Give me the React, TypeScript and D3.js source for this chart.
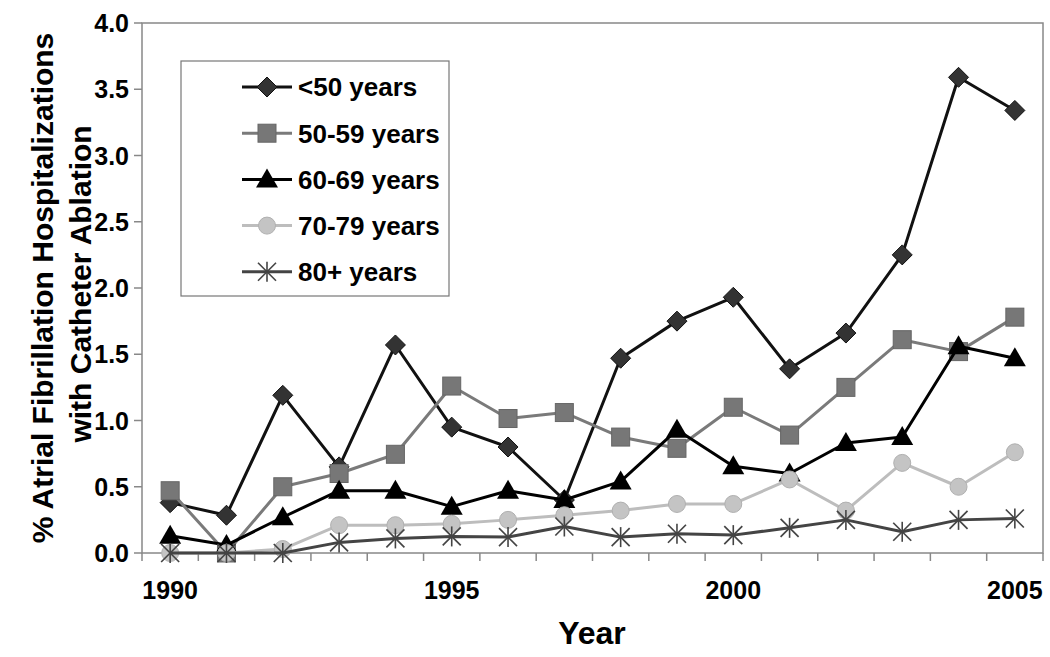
import * as d3 from "d3";

const years = d3.range(1990, 2006);
const yTicks = [0, 0.5, 1, 1.5, 2, 2.5, 3, 3.5, 4];
const xLabelYears = [1990, 1995, 2000, 2005];

const under50 = [0.38, 0.285, 1.19, 0.65, 1.57, 0.95, 0.8, 0.4, 1.47, 1.75, 1.93, 1.39, 1.66, 2.25, 3.59, 3.34];
const age50to59 = [0.47, 0.0, 0.5, 0.6, 0.745, 1.26, 1.015, 1.06, 0.875, 0.79, 1.1, 0.89, 1.25, 1.61, 1.52, 1.78];
const age60to69 = [0.13, 0.06, 0.27, 0.47, 0.47, 0.35, 0.47, 0.4, 0.54, 0.93, 0.655, 0.6, 0.83, 0.875, 1.56, 1.47];
const age70to79 = [0.0, 0.0, 0.03, 0.21, 0.21, 0.22, 0.25, 0.285, 0.32, 0.37, 0.37, 0.555, 0.32, 0.68, 0.5, 0.76];
const age80plus = [0.0, 0.0, 0.0, 0.08, 0.11, 0.125, 0.12, 0.2, 0.12, 0.145, 0.135, 0.19, 0.25, 0.16, 0.25, 0.26];

type Marker = "diamond" | "square" | "triangle" | "circle" | "asterisk";

const series: { name: string; values: number[]; color: string; marker: Marker; fill: string }[] = [
  { name: "<50 years", values: under50, color: "#111", marker: "diamond", fill: "#333" },
  { name: "50-59 years", values: age50to59, color: "#7a7a7a", marker: "square", fill: "#777" },
  { name: "60-69 years", values: age60to69, color: "#000", marker: "triangle", fill: "#000" },
  { name: "70-79 years", values: age70to79, color: "#bdbdbd", marker: "circle", fill: "#c4c4c4" },
  { name: "80+ years", values: age80plus, color: "#444", marker: "asterisk", fill: "none" },
];

const FONT = "Arial, 'Liberation Sans', Helvetica, sans-serif";

const margin = { left: 142, top: 23, right: 1043, bottom: 553 };

function MarkerShape({ type, x, y, fill, color }: { type: Marker; x: number; y: number; fill: string; color: string }) {
  if (type === "diamond") {
    return <path d={`M${x},${y - 10}L${x + 10},${y}L${x},${y + 10}L${x - 10},${y}Z`} fill={fill} stroke="#111" strokeWidth={1} />;
  }
  if (type === "square") {
    return <rect x={x - 9} y={y - 9} width={18} height={18} fill={fill} stroke="#666" strokeWidth={1} />;
  }
  if (type === "triangle") {
    return <path d={`M${x},${y - 11}L${x + 11},${y + 8}L${x - 11},${y + 8}Z`} fill={fill} />;
  }
  if (type === "circle") {
    return <circle cx={x} cy={y} r={8.5} fill={fill} stroke="#b0b0b0" strokeWidth={1} />;
  }
  const r = 9;
  return (
    <g stroke={color} strokeWidth={1.6}>
      <line x1={x - r} y1={y - r} x2={x + r} y2={y + r} />
      <line x1={x - r} y1={y + r} x2={x + r} y2={y - r} />
      <line x1={x} y1={y - r - 1} x2={x} y2={y + r + 1} />
    </g>
  );
}

export default function App() {
  const x = d3.scaleBand<number>().domain(years).range([margin.left, margin.right]);
  const y = d3.scaleLinear().domain([0, 4]).range([margin.bottom, margin.top]);
  const cx = (yr: number) => (x(yr) as number) + x.bandwidth() / 2;

  const line = d3
    .line<number>()
    .x((_, i) => cx(years[i]))
    .y((d) => y(d));

  const boundaries = years.map((yr) => x(yr) as number).concat([margin.right]);

  const legendX = 181;
  const legendY = 61;
  const legendRow = 46.2;

  return (
    <div>
      <style>{"body{margin:0}"}</style>
      <svg width={1050} height={657} style={{ display: "block", background: "#fff" }} fontFamily={FONT}>
        {/* plot frame */}
        <rect
          x={margin.left}
          y={margin.top}
          width={margin.right - margin.left}
          height={margin.bottom - margin.top}
          fill="none"
          stroke="#888"
          strokeWidth={1.5}
        />
        {/* y ticks */}
        {yTicks.map((t) => (
          <g key={t}>
            <line x1={margin.left - 8} x2={margin.left} y1={y(t)} y2={y(t)} stroke="#888" strokeWidth={1.5} />
            <text x={129} y={y(t)} dy="0.36em" textAnchor="end" fontSize={25} fontWeight="bold">
              {t.toFixed(1)}
            </text>
          </g>
        ))}
        {/* x ticks */}
        {boundaries.map((b, i) => (
          <line key={i} x1={b} x2={b} y1={margin.bottom} y2={margin.bottom + 8} stroke="#888" strokeWidth={1.5} />
        ))}
        {xLabelYears.map((yr) => (
          <text key={yr} x={cx(yr)} y={590} dy="0.36em" textAnchor="middle" fontSize={25} fontWeight="bold">
            {yr}
          </text>
        ))}
        <text x={592} y={632} dy="0.36em" textAnchor="middle" fontSize={32} fontWeight="bold">
          Year
        </text>
        {/* y title */}
        <text transform="translate(42,288) rotate(-90)" dy="0.36em" textAnchor="middle" fontSize={30} fontWeight="bold">
          % Atrial Fibrillation Hospitalizations
        </text>
        <text transform="translate(80,284) rotate(-90)" dy="0.36em" textAnchor="middle" fontSize={30} fontWeight="bold">
          with Catheter Ablation
        </text>

        {/* legend */}
        <rect x={legendX} y={legendY} width={268} height={235} fill="#fff" stroke="#777" strokeWidth={1.2} />
        {series.map((s, i) => {
          const ly = 87 + i * legendRow;
          return (
            <g key={s.name}>
              <line x1={242} x2={292} y1={ly} y2={ly} stroke={s.color} strokeWidth={3} />
              <MarkerShape type={s.marker} x={267} y={ly} fill={s.fill} color={s.color} />
              <text x={298} y={ly} dy="0.36em" fontSize={26} fontWeight="bold">
                {s.name}
              </text>
            </g>
          );
        })}

        {/* series */}
        {series.map((s) => (
          <g key={s.name}>
            <path d={line(s.values) as string} fill="none" stroke={s.color} strokeWidth={3} strokeLinejoin="round" />
            {s.values.map((v, i) => (
              <MarkerShape key={i} type={s.marker} x={cx(years[i])} y={y(v)} fill={s.fill} color={s.color} />
            ))}
          </g>
        ))}
      </svg>
    </div>
  );
}
